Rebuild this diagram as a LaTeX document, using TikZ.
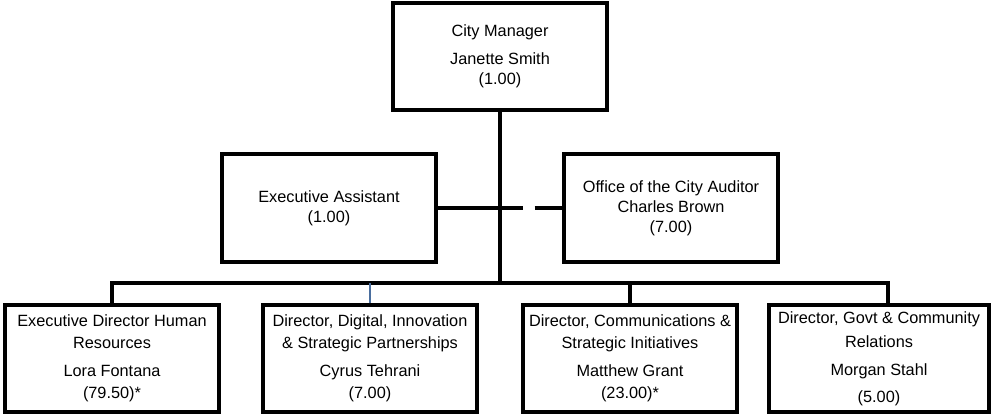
\documentclass[tikz,border=0pt]{standalone}
\usepackage{fontspec}
\setmainfont{Liberation Sans}
\usepackage{tikz}
\usepackage{xcolor}
\definecolor{primary}{HTML}{000000}
\definecolor{secondary}{HTML}{4A6E9E}

\begin{document}
\begin{tikzpicture}[x=1pt, y=-1pt,
        posbox/.style={draw=primary, fill=white, line width=3.2pt, align=center, minimum width=214pt, minimum height=107pt, inner sep=0pt, font=\fontsize{16.3}{20}\selectfont},
        link/.style={draw=primary, line width=3.4pt},
        bluelink/.style={draw=secondary, line width=2.6pt}]

        \useasboundingbox (0,0) rectangle (991,414);

        \node[posbox] (cm) at (500, 56.5) {City Manager\\[8pt]Janette Smith\\(1.00)};
        \node[posbox, minimum height=108pt] (ea) at (329, 208) {Executive Assistant\\(1.00)};
        \node[posbox, minimum height=108pt] (aud) at (671, 208) {Office of the City Auditor\\Charles Brown\\(7.00)};

        \node[posbox] (hr) at (112, 358.5) {Executive Director Human\\[2pt]Resources\\[8pt]Lora Fontana\\[2pt](79.50)*};
        \node[posbox] (dig) at (370, 358.5) {Director, Digital, Innovation\\[2pt]\& Strategic Partnerships\\[8pt]Cyrus Tehrani\\[2pt](7.00)};
        \node[posbox] (com) at (630, 358.5) {Director, Communications \&\\[2pt]Strategic Initiatives\\[8pt]Matthew Grant\\[2pt](23.00)*};
        \node[posbox, minimum width=220pt] (gov) at (879, 358.5) {Director, Govt \& Community\\[4pt]Relations\\[8pt]Morgan Stahl\\[7pt](5.00)};

        \coordinate (busL) at (113, 283);
        \coordinate (busR) at (888, 283);

        \draw[link] (cm.south) -- (cm.south |- busL);
        \draw[link, dash pattern=on 85pt off 12pt on 60pt] (ea.east) -- (aud.west);
        \draw[link] (hr.north) -- (hr.north |- busL) -- (busR) -- (busR |- gov.north);
        \draw[link] (com.north) -- (com.north |- busL);
        \draw[bluelink] (dig.north) -- (dig.north |- busL);
      \end{tikzpicture}
\end{document}
